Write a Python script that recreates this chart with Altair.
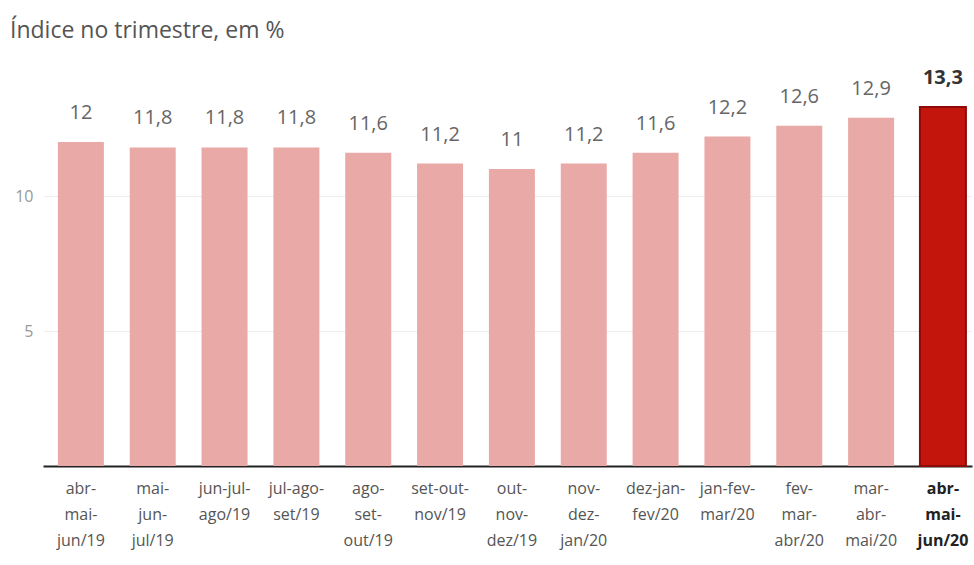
import altair as alt
import pandas as pd

categories = [
    "abr-|mai-|jun/19", "mai-|jun-|jul/19", "jun-jul-|ago/19", "jul-ago-|set/19",
    "ago-|set-|out/19", "set-out-|nov/19", "out-|nov-|dez/19", "nov-|dez-|jan/20",
    "dez-jan-|fev/20", "jan-fev-|mar/20", "fev-|mar-|abr/20", "mar-|abr-|mai/20",
    "abr-|mai-|jun/20",
]
values = [12, 11.8, 11.8, 11.8, 11.6, 11.2, 11, 11.2, 11.6, 12.2, 12.6, 12.9, 13.3]
value_labels = ["12", "11,8", "11,8", "11,8", "11,6", "11,2", "11", "11,2", "11,6",
                "12,2", "12,6", "12,9", "13,3"]
highlight = [False] * 12 + [True]

df = pd.DataFrame({"cat": categories, "val": values, "lab": value_labels, "hl": highlight})

FONT = "Open Sans"
last = categories[-1]

x = alt.X(
    "cat:N", sort=categories, title=None,
    scale=alt.Scale(paddingInner=0.36, paddingOuter=0.146, align=0.71),
    axis=alt.Axis(
        labelExpr="split(datum.label, '|')",
        labelAngle=0, labelFont=FONT, labelFontSize=16, labelLineHeight=26,
        labelColor=alt.ExprRef(f"datum.label == '{last}' ? '#222' : '#555'"),
        labelFontWeight=alt.ExprRef(f"datum.label == '{last}' ? 'bold' : 'normal'"),
        labelBaseline="top", labelPadding=14, ticks=False,
        domainColor="#222", domainWidth=2, labelOverlap=False,
    ),
)

y = alt.Y(
    "val:Q", title=None,
    scale=alt.Scale(domain=[0, 15], nice=False),
    axis=alt.Axis(
        values=[5, 10], domain=False, ticks=False, labelFont=FONT, labelFontSize=16,
        labelColor="#999", labelPadding=10, gridColor="#ececec", gridWidth=1,
    ),
)

bars = alt.Chart(df).mark_bar().encode(
    x=x, y=y,
    color=alt.condition("datum.hl", alt.value("#c4150c"), alt.value("#e9a9a6")),
    stroke=alt.condition("datum.hl", alt.value("#8e0a08"), alt.value("#e9a9a6")),
    strokeWidth=alt.condition("datum.hl", alt.value(2), alt.value(0)),
)

text_normal = alt.Chart(df).transform_filter("!datum.hl").mark_text(
    font=FONT, fontSize=20, baseline="alphabetic", dy=-23, color="#666"
).encode(
    x=alt.X("cat:N", sort=categories),
    y=alt.Y("val:Q"),
    text="lab:N",
)

text_bold = alt.Chart(df).transform_filter("datum.hl").mark_text(
    font=FONT, fontSize=20, baseline="alphabetic", dy=-23, color="#333", fontWeight="bold"
).encode(
    x=alt.X("cat:N", sort=categories),
    y=alt.Y("val:Q"),
    text="lab:N",
)

chart = alt.layer(bars, text_normal, text_bold).properties(
    width=929, height=405,
    padding={"left": 43, "top": 61, "right": 2, "bottom": 99},
    autosize=alt.AutoSizeParams(type="none"),
    title=alt.TitleParams(
        "Índice no trimestre, em %", anchor="start", font=FONT, fontSize=23,
        fontWeight="normal", color="#555", dx=-33, offset=18, frame="group",
    ),
).configure(background="white").configure_view(strokeWidth=0, stroke=None)

chart.save("out.html", embed_options={"renderer": "svg", "actions": False})
